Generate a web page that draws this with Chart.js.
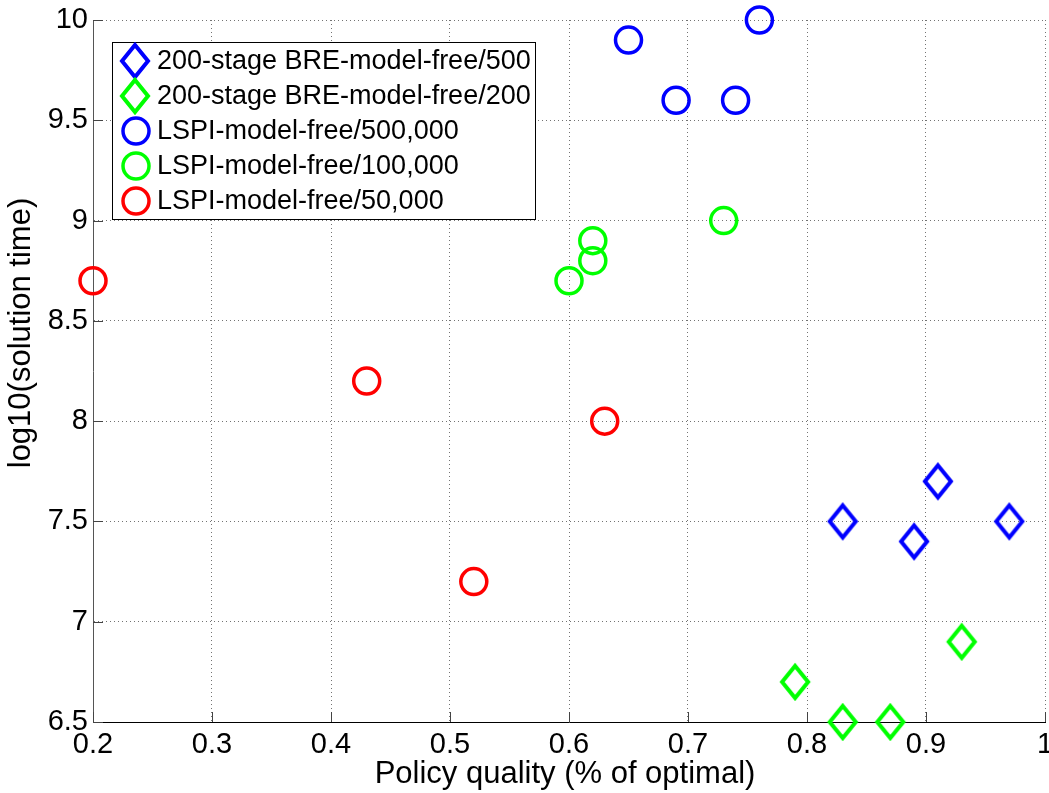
<!DOCTYPE html>
<html>
<head>
<meta charset="utf-8">
<script src="https://cdn.jsdelivr.net/npm/chart.js@4/dist/chart.umd.min.js"></script>
<style>
  html, body { margin: 0; padding: 0; background: #fff; }
  canvas { display: block; }
</style>
</head>
<body>
<canvas id="chart" width="1049" height="793"></canvas>
<script>
// --- data ---
const seriesNames = [
  '200-stage BRE-model-free/500',
  '200-stage BRE-model-free/200',
  'LSPI-model-free/500,000',
  'LSPI-model-free/100,000',
  'LSPI-model-free/50,000'
];
const bre500X = [0.83, 0.89, 0.91, 0.97];
const bre500Y = [7.5, 7.4, 7.7, 7.5];
const bre200X = [0.79, 0.83, 0.87, 0.93];
const bre200Y = [6.7, 6.5, 6.5, 6.9];
const lspi500kX = [0.65, 0.69, 0.74, 0.76];
const lspi500kY = [9.9, 9.6, 9.6, 10.0];
const lspi100kX = [0.60, 0.62, 0.62, 0.73];
const lspi100kY = [8.7, 8.9, 8.8, 9.0];
const lspi50kX = [0.20, 0.43, 0.52, 0.63];
const lspi50kY = [8.7, 8.2, 7.2, 8.0];

const xTicks = [0.2, 0.3, 0.4, 0.5, 0.6, 0.7, 0.8, 0.9, 1];
const yTicks = [6.5, 7, 7.5, 8, 8.5, 9, 9.5, 10];

const FONT = '"Liberation Sans", Arial, Helvetica, sans-serif';

// diamond marker (taller than wide, like the matlab one)
function makeDiamond(color) {
  const c = document.createElement('canvas');
  c.width = 34; c.height = 42;
  const g = c.getContext('2d');
  g.strokeStyle = color;
  g.lineWidth = 4;
  g.beginPath();
  g.moveTo(17, 5); g.lineTo(30, 21); g.lineTo(17, 37); g.lineTo(4, 21);
  g.closePath();
  g.stroke();
  return c;
}
const blueDiamond = makeDiamond('#0000ff');
const greenDiamond = makeDiamond('#00ff00');

function pts(xs, ys) { return xs.map((x, i) => ({ x: x, y: ys[i] })); }

const markerInfo = [
  { type: 'diamond', img: blueDiamond, color: '#0000ff' },
  { type: 'diamond', img: greenDiamond, color: '#00ff00' },
  { type: 'circle', color: '#0000ff' },
  { type: 'circle', color: '#00ff00' },
  { type: 'circle', color: '#ff0000' }
];

function circleSet(label, data, color) {
  return {
    label: label, data: data, pointStyle: 'circle', pointRadius: 13,
    borderColor: color, backgroundColor: 'rgba(0,0,0,0)', borderWidth: 3.5,
    showLine: false, clip: false
  };
}
function diamondSet(label, data, img) {
  return {
    label: label, data: data, pointStyle: img, pointRadius: 16,
    borderColor: 'rgba(0,0,0,0)', backgroundColor: 'rgba(0,0,0,0)',
    showLine: false, clip: false
  };
}

// inward tick marks + axis titles + legend box
const decorPlugin = {
  id: 'decor',
  beforeDatasetsDraw(chart) {
    const { ctx, chartArea: a, scales } = chart;
    ctx.save();
    ctx.strokeStyle = '#444';
    ctx.lineWidth = 1;
    ctx.beginPath();
    xTicks.forEach(t => {
      const px = Math.round(scales.x.getPixelForValue(t)) + 0.5;
      ctx.moveTo(px, a.bottom); ctx.lineTo(px, a.bottom - 10);
    });
    yTicks.forEach(t => {
      const py = Math.round(scales.y.getPixelForValue(t)) + 0.5;
      ctx.moveTo(a.left, py); ctx.lineTo(a.left + 10, py);
    });
    ctx.stroke();
    ctx.restore();
  },
  afterDraw(chart) {
    const { ctx } = chart;
    ctx.save();
    ctx.fillStyle = '#000';
    ctx.font = '31px ' + FONT;
    ctx.textAlign = 'center';
    ctx.textBaseline = 'middle';
    ctx.fillText('Policy quality (% of optimal)', 565, 774);
    ctx.translate(21, 333);
    ctx.rotate(-Math.PI / 2);
    ctx.fillText('log10(solution time)', 0, 0);
    ctx.restore();

    // legend box
    ctx.save();
    ctx.fillStyle = '#fff';
    ctx.fillRect(112, 42, 423, 177);
    ctx.strokeStyle = '#000';
    ctx.lineWidth = 1;
    ctx.strokeRect(112.5, 42.5, 423, 177);
    ctx.font = '27px ' + FONT;
    ctx.textAlign = 'left';
    ctx.textBaseline = 'middle';
    seriesNames.forEach((name, i) => {
      const cy = 61 + i * 35;
      const m = markerInfo[i];
      if (m.type === 'diamond') {
        ctx.drawImage(m.img, 135 - m.img.width / 2, cy - m.img.height / 2);
      } else {
        ctx.strokeStyle = m.color;
        ctx.lineWidth = 3.5;
        ctx.beginPath();
        ctx.arc(136, cy, 13, 0, Math.PI * 2);
        ctx.stroke();
      }
      ctx.fillStyle = '#000';
      ctx.fillText(name, 157, cy + 1);
    });
    ctx.restore();
  }
};

new Chart(document.getElementById('chart'), {
  type: 'scatter',
  data: {
    datasets: [
      diamondSet(seriesNames[0], pts(bre500X, bre500Y), blueDiamond),
      diamondSet(seriesNames[1], pts(bre200X, bre200Y), greenDiamond),
      circleSet(seriesNames[2], pts(lspi500kX, lspi500kY), '#0000ff'),
      circleSet(seriesNames[3], pts(lspi100kX, lspi100kY), '#00ff00'),
      circleSet(seriesNames[4], pts(lspi50kX, lspi50kY), '#ff0000')
    ]
  },
  options: {
    responsive: false,
    animation: false,
    devicePixelRatio: 1,
    // markers and the "1" label may run past the plot edge, as in the original
    layout: { autoPadding: false, padding: { top: 20, right: 4, left: 0, bottom: 0 } },
    plugins: { legend: { display: false }, tooltip: { enabled: false } },
    scales: {
      x: {
        type: 'linear', min: 0.2, max: 1,
        afterBuildTicks: s => { s.ticks = xTicks.map(v => ({ value: v })); },
        afterFit: s => { s.height = 71; s.paddingLeft = 0; s.paddingRight = 0; },
        ticks: {
          callback: v => String(v),
          font: { family: FONT, size: 29 }, color: '#000', padding: 6, maxRotation: 0
        },
        grid: { color: 'rgba(0,0,0,0.55)', drawTicks: false, lineWidth: 1 },
        border: { display: true, color: '#000', width: 1, dash: [1, 3] }
      },
      y: {
        type: 'linear', min: 6.5, max: 10,
        afterBuildTicks: s => { s.ticks = yTicks.map(v => ({ value: v })); },
        afterFit: s => { s.width = 93; s.paddingTop = 0; s.paddingBottom = 0; },
        ticks: {
          callback: v => String(v),
          font: { family: FONT, size: 29 }, color: '#000', padding: 5
        },
        grid: { color: 'rgba(0,0,0,0.55)', drawTicks: false, lineWidth: 1 },
        border: { display: true, color: '#555', width: 1, dash: [1, 3] }
      }
    }
  },
  plugins: [decorPlugin]
});
</script>
</body>
</html>
